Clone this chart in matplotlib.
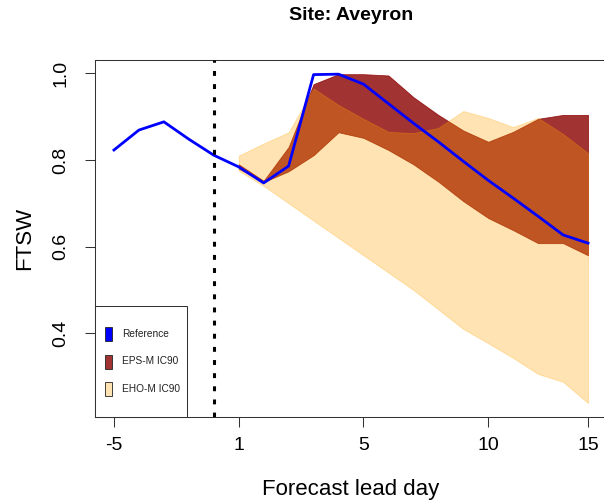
import numpy as np
import matplotlib
matplotlib.use("Agg")
import matplotlib.pyplot as plt
from matplotlib.colors import to_rgba
from matplotlib.patches import Rectangle

plt.rcParams['font.family'] = ['Liberation Sans', 'DejaVu Sans']

# ---------- data ----------
# positions along the lead-day axis (index of each plotted step)
step = np.arange(20)
tick_steps = [0, 5, 10, 15, 19]
tick_labels = ['-5', '1', '5', '10', '15']
issue_step = 4            # forecast issue date (dotted line)

reference = [0.823, 0.869, 0.888, 0.848, 0.811, 0.784, 0.747, 0.786, 0.997, 0.998,
             0.975, 0.930, 0.885, 0.842, 0.797, 0.753, 0.712, 0.670, 0.627, 0.608]

# forecast bands start at lead day 1 (step 5)
band_step = step[5:]
eps_lo = [0.780, 0.749, 0.774, 0.811, 0.864, 0.851, 0.823, 0.790, 0.750, 0.705,
          0.666, 0.638, 0.608, 0.608, 0.580]
eps_hi = [0.790, 0.752, 0.830, 0.975, 0.998, 0.998, 0.995, 0.945, 0.904, 0.868,
          0.842, 0.865, 0.895, 0.904, 0.904]
eho_lo = [0.775, 0.740, 0.700, 0.660, 0.620, 0.580, 0.540, 0.500, 0.455, 0.410,
          0.377, 0.343, 0.306, 0.288, 0.239]
eho_hi = [0.810, 0.838, 0.864, 0.965, 0.927, 0.895, 0.865, 0.862, 0.874, 0.913,
          0.897, 0.876, 0.897, 0.860, 0.816]

eps_col = to_rgba('darkred', 0.8)
eho_col = to_rgba('orange', 0.3)
ref_col = 'blue'

# ---------- figure ----------
fig = plt.figure(figsize=(6.04, 5.0), dpi=100)
ax = fig.add_axes([95/604, 83/500, 512/604, 357/500])

ax.fill_between(band_step, eps_lo, eps_hi, facecolor=eps_col, edgecolor=eps_col,
                linewidth=0.6, zorder=2)
ax.fill_between(band_step, eho_lo, eho_hi, facecolor=eho_col, edgecolor=eho_col,
                linewidth=0.6, zorder=3)
ax.plot(step, reference, color=ref_col, linewidth=2.0, zorder=4)
ax.axvline(issue_step, color='black', linewidth=2.2, linestyle=(0, (1.6, 2.7)), zorder=5)

ax.set_xlim(-0.76, 19.76)
ax.set_ylim(0.2068, 1.0307)
ax.set_xticks(tick_steps)
ax.set_xticklabels(tick_labels)
ax.set_yticks([0.4, 0.6, 0.8, 1.0])
ax.set_yticklabels(['0.4', '0.6', '0.8', '1.0'], rotation=90, va='center')

ax.tick_params(direction='out', length=7.2, width=0.75, labelsize=14, color='#333333')
ax.tick_params(axis='x', pad=7)
ax.tick_params(axis='y', pad=11)
for s in ax.spines.values():
    s.set_linewidth(0.75)
    s.set_color('#333333')

ax.set_title('Site: Aveyron', fontsize=14, fontweight='bold', pad=29)
ax.set_xlabel('Forecast lead day', fontsize=16, labelpad=18)
ax.set_ylabel('FTSW', fontsize=16, labelpad=13)

# ---------- legend box, drawn R-style in the lower-left corner ----------
tr = ax.transAxes
W, H = 512.0, 357.0
ax.add_patch(Rectangle((0, 0), 92/W, 111/H, transform=tr, facecolor='white',
                       edgecolor='#333333', linewidth=0.75, zorder=6, clip_on=False))
entries = [('Reference', to_rgba(ref_col)), ('EPS-M IC90', eps_col), ('EHO-M IC90', eho_col)]
for i, (lab, col) in enumerate(entries):
    yc = (417 - 334 - 27.5*i) / H
    ax.add_patch(Rectangle((10/W, yc - 7/H), 7/W, 14/H, transform=tr, facecolor=col,
                           edgecolor='#222222', linewidth=0.6, zorder=7))
    ax.text(27/W, yc, lab, transform=tr, fontsize=7.3, va='center', ha='left',
            color='#222222', zorder=7)

fig.savefig('out.png', dpi=100, facecolor='white')
